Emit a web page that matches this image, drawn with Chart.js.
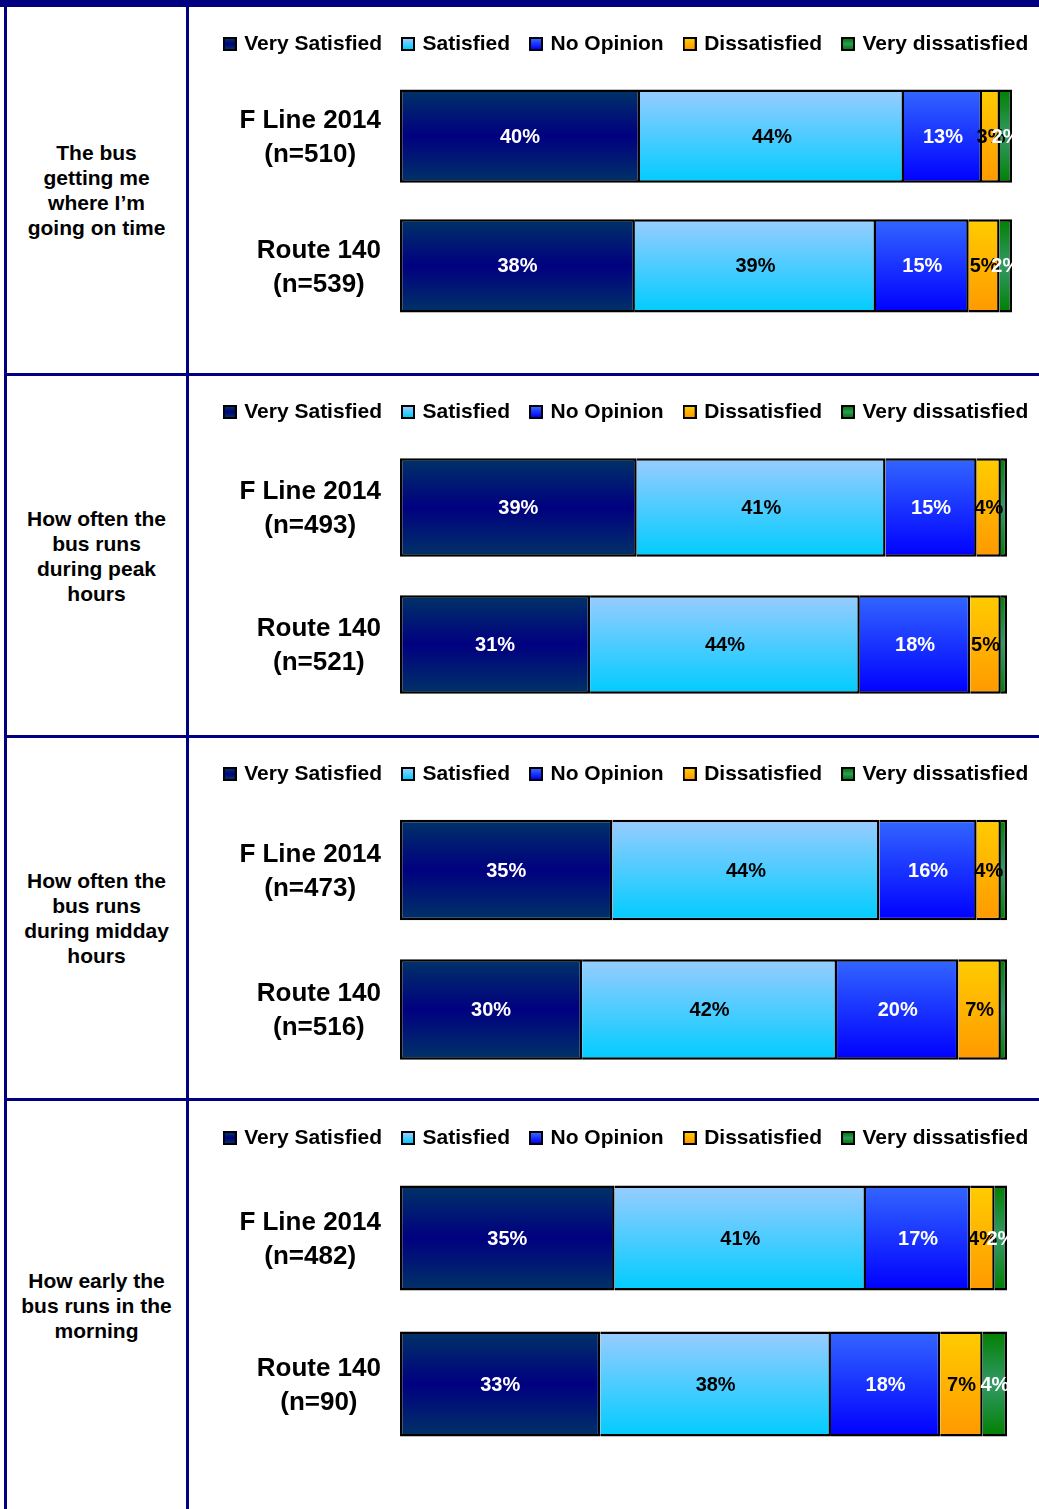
<!DOCTYPE html>
<html>
<head>
<meta charset="utf-8">
<script src="https://cdn.jsdelivr.net/npm/chart.js@4.4.1/dist/chart.umd.min.js"></script>
<style>
html, body { margin: 0; padding: 0; background: #fff; width: 1039px; height: 1509px; overflow: hidden; position: relative; }
.rule { position: absolute; background: #000080; }
.q { position: absolute; left: 7px; width: 179px; display: flex; align-items: center; justify-content: center;
     text-align: center; font: bold 21px "Liberation Sans", Arial, sans-serif; line-height: 25px; color: #000; }
canvas { position: absolute; left: 190px; }
</style>
</head>
<body>
<script>
// ---------------- DATA ----------------
const questions = [
  ['The bus', 'getting me', 'where I\u2019m', 'going on time'],
  ['How often the', 'bus runs', 'during peak', 'hours'],
  ['How often the', 'bus runs', 'during midday', 'hours'],
  ['How early the', 'bus runs in the', 'morning']
];
const barNames = ['F Line 2014', 'Route 140'];
const sampleSizes = ['(n=510)', '(n=539)', '(n=493)', '(n=521)', '(n=473)', '(n=516)', '(n=482)', '(n=90)'];
const seriesNames = ['Very Satisfied', 'Satisfied', 'No Opinion', 'Dissatisfied', 'Very dissatisfied'];
// one value per bar, in order: row1 F Line, row1 Route 140, row2 F Line, ...
const verySatisfied    = [40, 38, 39, 31, 35, 30, 35, 33];
const satisfied        = [44, 39, 41, 44, 44, 42, 41, 38];
const noOpinion        = [13, 15, 15, 18, 16, 20, 17, 18];
const dissatisfied     = [3, 5, 4, 5, 4, 7, 4, 7];
const veryDissatisfied = [2, 2, 1, 1, 1, 1, 2, 4];
const seriesValues = [verySatisfied, satisfied, noOpinion, dissatisfied, veryDissatisfied];

// ---------------- STYLES / LAYOUT ----------------
const FONT = '"Liberation Sans", Arial, Helvetica, sans-serif';
const gradientStops = [
  [[0, '#003366'], [0.5, '#000080'], [1, '#003366']],
  [[0, '#99CCFF'], [1, '#00CCFF']],
  [[0, '#3366FF'], [1, '#0000FF']],
  [[0, '#FFCC00'], [1, '#FF9900']],
  [[0, '#008000'], [0.5, '#339966'], [1, '#008000']]
];
const labelColors = ['#ffffff', '#000000', '#ffffff', '#000000', '#ffffff'];

// per row: legend text centre, chart-area top/bottom, chart-area right
const rowLayout = [
  { legendY: 44,   top: 71.25,  bottom: 330.75,  right: 1012 },
  { legendY: 412,  top: 439,    bottom: 713,     right: 1007 },
  { legendY: 774,  top: 800.25, bottom: 1079.25, right: 1007 },
  { legendY: 1138, top: 1165,   bottom: 1457,    right: 1007 }
];
const rowCells = [[7, 373], [376, 735], [738, 1098], [1101, 1509]];
const CANVAS_LEFT = 190, CANVAS_RIGHT = 1064, AREA_LEFT = 400;
const LEGEND_FONT = 21, LEGEND_PAD = 22, LEGEND_BOX_SLOT = 8;

// ---------------- FRAME ----------------
function rule(l, t, w, h) {
  const d = document.createElement('div');
  d.className = 'rule';
  Object.assign(d.style, { left: l + 'px', top: t + 'px', width: w + 'px', height: h + 'px' });
  document.body.appendChild(d);
}
rule(0, 0, 1039, 7);
rule(4, 0, 3, 1509);
rule(186, 0, 3, 1509);
rule(4, 373, 1035, 3);
rule(4, 735, 1035, 3);
rule(4, 1098, 1035, 3);

questions.forEach((lines, r) => {
  const d = document.createElement('div');
  d.className = 'q';
  d.style.top = rowCells[r][0] + 'px';
  d.style.height = (rowCells[r][1] - rowCells[r][0]) + 'px';
  const inner = document.createElement('div');
  lines.forEach((l, k) => {
    if (k) inner.appendChild(document.createElement('br'));
    inner.appendChild(document.createTextNode(l));
  });
  d.appendChild(inner);
  document.body.appendChild(d);
});

// legend swatches (small gradient squares with black border)
const swatches = gradientStops.map(stops => {
  const c = document.createElement('canvas');
  c.width = 14; c.height = 14;
  const x = c.getContext('2d');
  x.fillStyle = '#000';
  x.fillRect(0, 0, 14, 14);
  const g = x.createLinearGradient(0, 2, 0, 12);
  stops.forEach(([o, col]) => g.addColorStop(o, col));
  x.fillStyle = g;
  x.fillRect(2, 2, 10, 10);
  return c;
});

// ---------------- PLUGINS ----------------
function makeGradient(stops) {
  return (ctx) => {
    const chart = ctx.chart, ca = chart.chartArea;
    if (!ca || ctx.dataIndex === undefined) return stops[0][1];
    const ys = chart.scales.y;
    const c = ys.getPixelForValue(ctx.dataIndex);
    const h = (ca.bottom - ca.top) / chart.data.labels.length * 0.72;
    const g = chart.ctx.createLinearGradient(0, c - h / 2, 0, c + h / 2);
    stops.forEach(([o, col]) => g.addColorStop(o, col));
    return g;
  };
}

const valueLabels = {
  id: 'valueLabels',
  afterDatasetsDraw(chart) {
    const { ctx, chartArea: ca } = chart;
    ctx.save();
    ctx.beginPath();
    ctx.rect(ca.left, ca.top, ca.right - ca.left, ca.bottom - ca.top);
    ctx.clip();
    ctx.font = 'bold 20px ' + FONT;
    ctx.textAlign = 'center';
    ctx.textBaseline = 'middle';
    chart.data.datasets.forEach((ds, di) => {
      const meta = chart.getDatasetMeta(di);
      meta.data.forEach((el, i) => {
        const v = ds.rawValues[i];
        if (v < 2) return;
        ctx.fillStyle = ds.labelColor;
        ctx.fillText(v + '%', (el.x + el.base) / 2, el.y + 1);
      });
    });
    ctx.restore();
  }
};

const categoryLabels = {
  id: 'categoryLabels',
  afterDraw(chart) {
    const { ctx, chartArea: ca } = chart;
    const ys = chart.scales.y;
    ctx.save();
    ctx.font = 'bold 26px ' + FONT;
    ctx.fillStyle = '#000';
    ctx.textAlign = 'center';
    ctx.textBaseline = 'middle';
    chart.data.labels.forEach((lines, i) => {
      const w = Math.max(...lines.map(l => ctx.measureText(l).width));
      const cx = ca.left - 19 - w / 2;
      const cy = ys.getPixelForValue(i) + 1.5;
      lines.forEach((l, k) => ctx.fillText(l, cx, cy + (k - (lines.length - 1) / 2) * 34));
    });
    ctx.restore();
  }
};

// ---------------- CHARTS ----------------
rowLayout.forEach((L, r) => {
  const idx = [2 * r, 2 * r + 1];
  const totals = idx.map(i => seriesValues.reduce((s, arr) => s + arr[i], 0));
  const legendTop = L.legendY - (LEGEND_PAD + LEGEND_FONT / 2);
  const canvasTop = Math.floor(legendTop);
  const padTop = legendTop - canvasTop;
  const legendHeight = LEGEND_FONT + LEGEND_PAD + 10;
  const xAxisHeight = L.top - (legendTop + legendHeight);
  const canvasHeight = Math.ceil(L.bottom + 6 - canvasTop);
  const padBottom = canvasTop + canvasHeight - L.bottom;

  const canvas = document.createElement('canvas');
  canvas.width = CANVAS_RIGHT - CANVAS_LEFT;
  canvas.height = canvasHeight;
  canvas.style.top = canvasTop + 'px';
  canvas.style.width = canvas.width + 'px';
  canvas.style.height = canvasHeight + 'px';
  document.body.appendChild(canvas);

  const datasets = seriesNames.map((name, s) => ({
    label: name,
    rawValues: idx.map(i => seriesValues[s][i]),
    data: idx.map((i, k) => seriesValues[s][i] / totals[k] * 100),
    labelColor: labelColors[s],
    backgroundColor: makeGradient(gradientStops[s]),
    borderColor: '#000',
    borderWidth: 2.5,
    borderSkipped: s === 0 ? false : 'left',
    categoryPercentage: 0.8,
    barPercentage: 0.9
  }));

  new Chart(canvas, {
    type: 'bar',
    data: {
      labels: idx.map((i, k) => [barNames[k], sampleSizes[i]]),
      datasets
    },
    options: {
      indexAxis: 'y',
      responsive: false,
      animation: false,
      devicePixelRatio: 1,
      layout: { padding: { top: padTop, bottom: padBottom, left: 0, right: 0 } },
      scales: {
        x: {
          stacked: true, min: 0, max: 100, position: 'top',
          ticks: { display: false }, grid: { display: false }, border: { display: false },
          afterFit: s => { s.height = xAxisHeight; }
        },
        y: {
          stacked: true, position: 'left',
          ticks: { display: false }, grid: { display: false }, border: { display: false },
          afterFit: s => { s.width = AREA_LEFT - CANVAS_LEFT; }
        },
        y2: {
          type: 'linear', position: 'right', display: true,
          ticks: { display: false }, grid: { display: false }, border: { display: false },
          afterFit: s => { s.width = CANVAS_RIGHT - L.right; }
        }
      },
      plugins: {
        tooltip: { enabled: false },
        legend: {
          display: true, position: 'top', align: 'center',
          labels: {
            color: '#000',
            font: { family: FONT, size: LEGEND_FONT, weight: 'bold' },
            usePointStyle: true,
            pointStyleWidth: LEGEND_BOX_SLOT,
            boxHeight: 14,
            padding: LEGEND_PAD,
            generateLabels: (chart) => chart.data.datasets.map((ds, i) => ({
              text: ds.label,
              pointStyle: swatches[i],
              fillStyle: '#000',
              strokeStyle: '#000',
              lineWidth: 0,
              hidden: false,
              datasetIndex: i
            }))
          }
        }
      }
    },
    plugins: [valueLabels, categoryLabels]
  });
});
</script>
</body>
</html>
